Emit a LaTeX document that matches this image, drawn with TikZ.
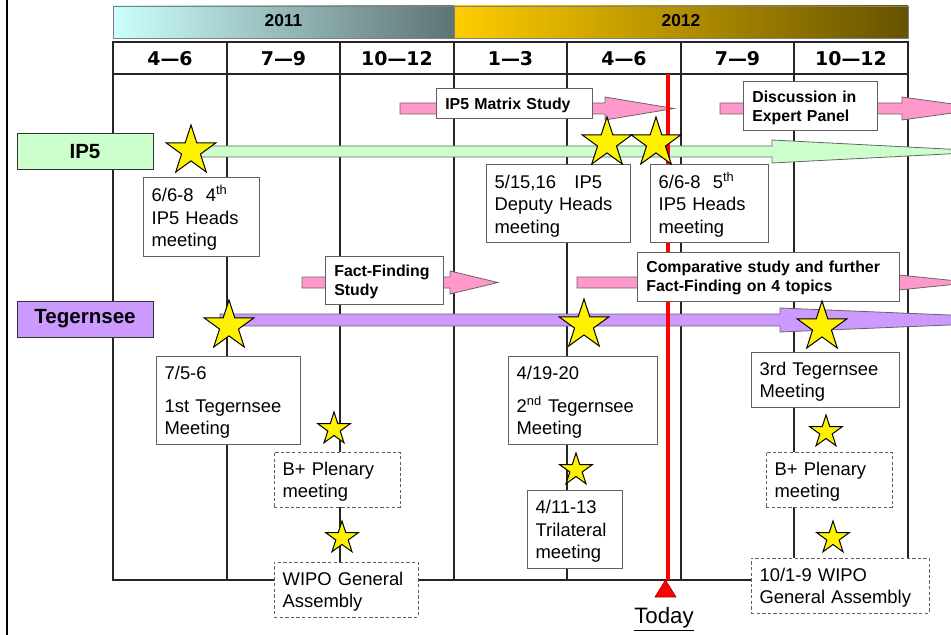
\documentclass[tikz,border=0pt]{standalone}
\usepackage{fontspec}
\setmainfont{Liberation Sans}
\newfontfamily\dvs{DejaVu Sans}
\usetikzlibrary{shapes.geometric}
\definecolor{c11a}{RGB}{204,255,255}
\definecolor{c11b}{RGB}{95,115,115}
\definecolor{c12a}{RGB}{255,204,0}
\definecolor{c12b}{RGB}{102,82,0}
\definecolor{pinkc}{HTML}{FF99CC}
\definecolor{greenc}{HTML}{CCFFCC}
\definecolor{purplec}{HTML}{CC99FF}
\definecolor{boxgray}{HTML}{606060}
\newcommand\evstrut{\rule{0pt}{13.5pt}}
\newcommand\lbstrut{\rule{0pt}{11pt}}
\tikzset{
  gridline/.style={draw=black!85, line width=0.9pt},
  arrowedge/.style={draw=black!60, line width=0.6pt},
  evbox/.style={draw=boxgray, fill=white, line width=0.75pt, align=left, inner xsep=6.5pt, inner ysep=0pt, anchor=center, font=\fontsize{13.8}{16.9}\selectfont, execute at begin node=\evstrut},
  dashbox/.style={evbox, dash pattern=on 2.6pt off 1.6pt},
  lblbox/.style={draw=boxgray, fill=white, line width=0.75pt, align=left, inner xsep=7pt, inner ysep=0pt, anchor=center, font=\bfseries\fontsize{11.9}{14.25}\selectfont, execute at begin node=\lbstrut},
  rowlbl/.style={draw=black!80, line width=0.75pt, inner sep=0pt, minimum width=102pt, minimum height=27pt, font=\bfseries\fontsize{15.4}{18}\selectfont},
  qlbl/.style={font=\dvs\bfseries\fontsize{14.2}{16}\selectfont, inner sep=0pt},
  ylbl/.style={font=\bfseries\fontsize{13}{15}\selectfont, inner sep=0pt},
  bigstar/.style={star, star points=5, star point ratio=2.618, minimum size=39pt, inner sep=0pt, draw=black, fill=yellow, line width=0.75pt},
  smallstar/.style={bigstar, minimum size=25.5pt}
}
\begin{document}
\begin{tikzpicture}[x=0.75pt,y=-0.75pt]
\useasboundingbox (0,0) rectangle (951,635);
% header
\draw[draw=black!50, line width=0.6pt, left color=c11a, right color=c11b] (113,6) rectangle (454,38);
\draw[draw=black!50, line width=0.6pt, left color=c12a, right color=c12b] (454,6) rectangle (908,38);
\node[ylbl] (y2011) at (283.5,21) {2011};
\node[ylbl] (y2012) at (681,21) {2012};
% grid
\draw[gridline] (113,42) rectangle (908,580);
\draw[gridline] (113,74) -- (908,74);
\foreach \x in {227,340,454,567,681,794} \draw[gridline] (\x,42) -- (\x,580);
\node[qlbl] (q1) at (170,59) {4—6};
\node[qlbl] (q2) at (283.5,59) {7—9};
\node[qlbl] (q3) at (397,59) {10—12};
\node[qlbl] (q4) at (510.5,59) {1—3};
\node[qlbl] (q5) at (624,59) {4—6};
\node[qlbl] (q6) at (737.5,59) {7—9};
\node[qlbl] (q7) at (851,59) {10—12};
% arrows
\draw[arrowedge, fill=greenc] (200,146) -- (772,146) -- (772,140) -- (995,151.5) -- (772,163) -- (772,157) -- (200,157) -- cycle;
\draw[arrowedge, fill=purplec] (220,314) -- (780,314) -- (780,308) -- (1070,320) -- (780,332) -- (780,326) -- (220,326) -- cycle;
\draw[arrowedge, fill=pinkc] (400,103) -- (605,103) -- (605,97) -- (674,108.5) -- (605,120) -- (605,114) -- (400,114) -- cycle;
\draw[arrowedge, fill=pinkc] (720,103) -- (902,103) -- (902,97) -- (985,108.5) -- (902,120) -- (902,114) -- (720,114) -- cycle;
\draw[arrowedge, fill=pinkc] (302,277) -- (450,277) -- (450,271) -- (498,282.5) -- (450,294) -- (450,288) -- (302,288) -- cycle;
\draw[arrowedge, fill=pinkc] (577,277) -- (860,277) -- (860,271) -- (972,282.5) -- (860,294) -- (860,288) -- (577,288) -- cycle;
% today line
\draw[red, line width=2.6pt] (668,74) -- (668,580);
% row labels
\node[rowlbl, fill=greenc] (ip5) at (85,152) {IP5};
\node[rowlbl, fill=purplec] (teg) at (85,319) {Tegernsee};
% activity labels
\node[lblbox, text width=103pt, minimum height=22.5pt] (lmatrix) at (514,104) {IP5 Matrix Study};
\node[lblbox, text width=86.5pt, minimum height=36.75pt] (lexpert) at (810,106.5) {Discussion in\\Expert Panel};
\node[lblbox, text width=74.5pt, minimum height=36pt] (lfact) at (384,280) {Fact-Finding\\Study};
\node[lblbox, text width=182.5pt, minimum height=36.75pt] (lcomp) at (768,276.5) {Comparative study and further\\Fact-Finding on 4 topics};
% event boxes
\node[evbox, text width=74pt, minimum height=58.5pt] (b4th) at (201,217) {6/6-8\ \ 4\textsuperscript{th}\\IP5 Heads\\meeting};
\node[evbox, text width=95pt, minimum height=57.75pt] (bdep) at (558,203.5) {5/15,16\ \ \ IP5\\Deputy Heads\\meeting};
\node[evbox, text width=75.5pt, minimum height=57.75pt] (b5th) at (709,203.5) {6/6-8\ \ 5\textsuperscript{th}\\IP5 Heads\\meeting};
\node[evbox, text width=95pt, minimum height=66pt] (b1st) at (228,400) {7/5-6\\[7.9pt]1st Tegernsee\\Meeting};
\node[evbox, text width=98.75pt, minimum height=66pt] (b2nd) at (582.5,400) {4/19-20\\[7.9pt]2\textsuperscript{nd} Tegernsee\\Meeting};
\node[evbox, text width=98pt, minimum height=41.25pt] (b3rd) at (825,379.5) {3rd Tegernsee\\Meeting};
\node[evbox, text width=58.25pt, minimum height=58.5pt] (btri) at (574.5,529) {4/11-13\\Trilateral\\meeting};
\node[dashbox, text width=81.5pt, minimum height=41.25pt] (bbp1) at (337,479.5) {B+ Plenary\\meeting};
\node[dashbox, text width=95pt, minimum height=41.25pt] (bwipo1) at (346,589.5) {WIPO General\\Assembly};
\node[dashbox, text width=81.5pt, minimum height=41.25pt] (bbp2) at (829,479.5) {B+ Plenary\\meeting};
\node[dashbox, text width=120.5pt, minimum height=41.25pt] (bwipo2) at (840,585.5) {10/1-9 WIPO\\General Assembly};
% stars
\node[bigstar] (s4th) at (191,151) {};
\node[bigstar] (sdep) at (607,143) {};
\node[bigstar] (s5th) at (656,143) {};
\node[bigstar] (s1st) at (229,326) {};
\node[bigstar] (s2nd) at (584,325) {};
\node[bigstar] (s3rd) at (822,327) {};
\node[smallstar] (sbp1) at (334,429) {};
\node[smallstar] (swipo1) at (342,538) {};
\node[smallstar] (stri) at (576,470) {};
\node[smallstar] (sbp2) at (826,432) {};
\node[smallstar] (swipo2) at (833,538) {};
% today marker
\draw[fill=red, draw=red!70!black, line width=0.5pt] (655,597) -- (676,597) -- (665.5,580) -- cycle;
\node[font=\fontsize{16.7}{19}\selectfont, inner sep=0pt] (today) at (664,619) {\underline{Today}};
% left border
\draw[line width=2pt] (7,0) -- (7,635);
\end{tikzpicture}
\end{document}
